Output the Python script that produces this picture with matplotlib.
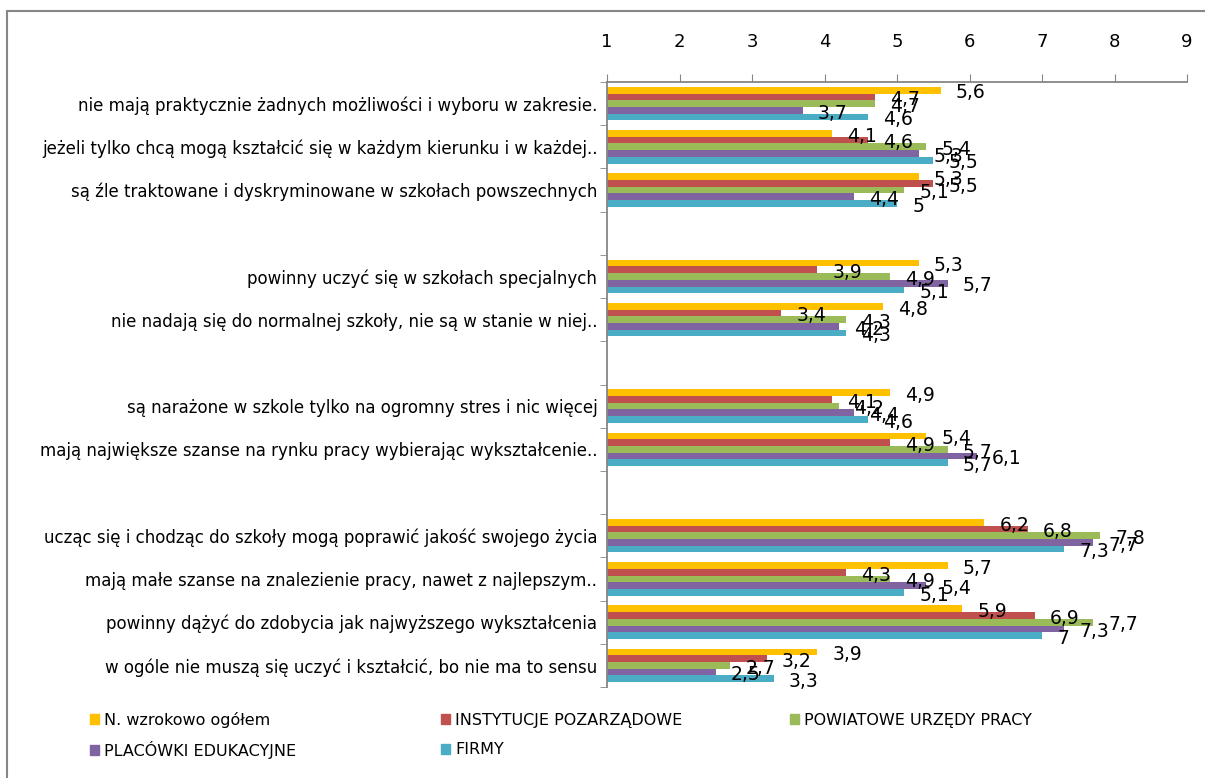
import matplotlib
matplotlib.use('Agg')
import matplotlib.pyplot as plt
from matplotlib.patches import Patch, Rectangle
import numpy as np

plt.rcParams['font.family'] = ['Liberation Sans Narrow', 'DejaVu Sans']

# categories from top to bottom ('' = empty separator row)
categories = [
    'nie mają praktycznie żadnych możliwości i wyboru w zakresie.',
    'jeżeli tylko chcą mogą kształcić się w każdym kierunku i w każdej..',
    'są źle traktowane i dyskryminowane w szkołach powszechnych',
    '',
    'powinny uczyć się w szkołach specjalnych',
    'nie nadają się do normalnej szkoły, nie są w stanie w niej..',
    '',
    'są narażone w szkole tylko na ogromny stres i nic więcej',
    'mają największe szanse na rynku pracy wybierając wykształcenie..',
    '',
    'ucząc się i chodząc do szkoły mogą poprawić jakość swojego życia',
    'mają małe szanse na znalezienie pracy, nawet z najlepszym..',
    'powinny dążyć do zdobycia jak najwyższego wykształcenia',
    'w ogóle nie muszą się uczyć i kształcić, bo nie ma to sensu',
]

series_names = ['N. wzrokowo ogółem', 'INSTYTUCJE POZARZĄDOWE', 'POWIATOWE URZĘDY PRACY',
                'PLACÓWKI EDUKACYJNE', 'FIRMY']
colors = ['#FFC000', '#C0504D', '#9BBB59', '#8064A2', '#4BACC6']

# values per series, None for empty rows
ogolem = [5.6, 4.1, 5.3, None, 5.3, 4.8, None, 4.9, 5.4, None, 6.2, 5.7, 5.9, 3.9]
instytucje = [4.7, 4.6, 5.5, None, 3.9, 3.4, None, 4.1, 4.9, None, 6.8, 4.3, 6.9, 3.2]
urzedy = [4.7, 5.4, 5.1, None, 4.9, 4.3, None, 4.2, 5.7, None, 7.8, 4.9, 7.7, 2.7]
placowki = [3.7, 5.3, 4.4, None, 5.7, 4.2, None, 4.4, 6.1, None, 7.7, 5.4, 7.3, 2.5]
firmy = [4.6, 5.5, 5.0, None, 5.1, 4.3, None, 4.6, 5.7, None, 7.3, 5.1, 7.0, 3.3]

all_series = [ogolem, instytucje, urzedy, placowki, firmy]

fig = plt.figure(figsize=(12.05, 7.78), dpi=100)
ax = fig.add_axes([607 / 1205, 1 - 687 / 778, 580 / 1205, 605 / 778])

n = len(categories)
y = np.arange(n)
h = 0.155
axis_gray = '#868686'

for i, (vals, col) in enumerate(zip(all_series, colors)):
    ys = y - 2 * h + i * h
    for yy, v in zip(ys, vals):
        if v is None:
            continue
        ax.barh(yy, v - 1, left=1, height=h, color=col, edgecolor='none')
        lab = ('%g' % v).replace('.', ',')
        ax.annotate(lab, (v, yy), xytext=(11, -2), textcoords='offset points',
                    ha='left', va='center', fontsize=13.5)

ax.set_xlim(1, 9)
ax.set_ylim(n - 0.5, -0.5)
ax.xaxis.tick_top()
ax.set_xticks(range(1, 10))
ax.tick_params(axis='x', length=6, color=axis_gray, pad=16, labelsize=13)

ax.set_yticks(y)
ax.set_yticklabels(categories, fontsize=12)
ax.set_yticks(np.arange(-0.5, n, 1), minor=True)
ax.tick_params(axis='y', which='major', length=0, pad=7)
ax.tick_params(axis='y', which='minor', length=5, color=axis_gray)

for s in ['right', 'bottom']:
    ax.spines[s].set_visible(False)
for s in ['top', 'left']:
    ax.spines[s].set_color(axis_gray)
    ax.spines[s].set_linewidth(1.3)

# legend, Excel-style fixed column positions
leg_pos = [(97, 720), (448, 720), (797, 720), (97, 750), (448, 750)]
for name, col, (px, py) in zip(series_names, colors, leg_pos):
    fig.legend(handles=[Patch(color=col)], labels=[name], loc='center left',
               bbox_to_anchor=(px / 1205 - 0.006, 1 - py / 778), frameon=False,
               fontsize=11.5, handlelength=0.6, handleheight=0.6, handletextpad=0.3,
               borderpad=0, borderaxespad=0)

# chart outline
fig.patches.append(Rectangle((7 / 1205, -0.05), 1.2, 1 - 11 / 778 + 0.05,
                             transform=fig.transFigure, fill=False,
                             edgecolor=axis_gray, linewidth=1.5))

fig.savefig('out.png', dpi=100)
